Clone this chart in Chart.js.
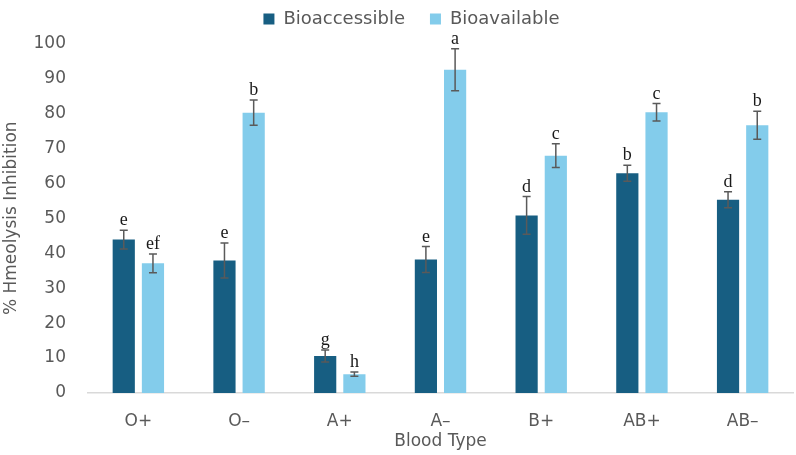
<!DOCTYPE html>
<html>
<head>
<meta charset="utf-8">
<script src="https://cdn.jsdelivr.net/npm/chart.js@4.4.1/dist/chart.umd.min.js"></script>
<style>
  html, body { margin: 0; padding: 0; background: #fff; }
  #wrap { width: 796px; height: 455px; }
</style>
</head>
<body>
<div id="wrap"><canvas id="chart"></canvas></div>
<script>
// data
const bloodTypes = ['O+', 'O\u2013', 'A+', 'A\u2013', 'B+', 'AB+', 'AB\u2013'];
const bioaccessible = [43.9, 37.9, 10.6, 38.2, 50.8, 62.9, 55.3];
const bioaccessibleErr = [2.7, 5.0, 1.7, 3.7, 5.4, 2.3, 2.3];
const bioavailable = [37.1, 80.2, 5.4, 92.5, 67.9, 80.3, 76.6];
const bioavailableErr = [2.7, 3.6, 0.6, 6.0, 3.4, 2.5, 4.0];
const bioaccessibleLetters = ['e', 'e', 'g', 'e', 'd', 'b', 'd'];
const bioavailableLetters = ['ef', 'b', 'h', 'a', 'c', 'c', 'b'];
const yTicks = [0, 10, 20, 30, 40, 50, 60, 70, 80, 90, 100];

const errors = [bioaccessibleErr, bioavailableErr];
const letters = [bioaccessibleLetters, bioavailableLetters];

// plugin untuk error bar + huruf signifikan
const errorBarPlugin = {
    id: 'errorBars',
    afterDatasetsDraw(chart) {
        const ctx = chart.ctx;
        const yScale = chart.scales.y;
        chart.data.datasets.forEach((ds, di) => {
            const meta = chart.getDatasetMeta(di);
            meta.data.forEach((bar, i) => {
                const v = ds.data[i];
                const e = errors[di][i];
                const yTop = yScale.getPixelForValue(v + e);
                const yBot = yScale.getPixelForValue(v - e);
                const x = bar.x;
                ctx.save();
                ctx.strokeStyle = '#5a5a5a';
                ctx.lineWidth = 1.5;
                ctx.beginPath();
                ctx.moveTo(x, yTop); ctx.lineTo(x, yBot);
                ctx.moveTo(x - 4, yTop); ctx.lineTo(x + 4, yTop);
                ctx.moveTo(x - 4, yBot); ctx.lineTo(x + 4, yBot);
                ctx.stroke();
                ctx.fillStyle = '#1a1a1a';
                ctx.font = '18px "Liberation Serif", "DejaVu Serif", serif';
                ctx.textAlign = 'center';
                ctx.textBaseline = 'alphabetic';
                ctx.fillText(letters[di][i], x, yTop - 5);
                ctx.restore();
            });
        });
    }
};

// tinggi legend tetap supaya kawasan graf bermula di tempat yang sama
const legendHeightPlugin = {
    id: 'legendHeight',
    beforeLayout(chart) {
        const lg = chart.legend;
        if (lg && !lg._patched) {
            const origFit = lg.fit;
            lg.fit = function () {
                origFit.call(this);
                this.height = 58.5;
            };
            lg._patched = true;
        }
    }
};

const fontFamily = '"DejaVu Sans", "Noto Sans", sans-serif';
const tickFont = { family: fontFamily, size: 17 };

new Chart(document.getElementById('chart'), {
    type: 'bar',
    data: {
        labels: bloodTypes,
        datasets: [{
            label: 'Bioaccessible',
            data: bioaccessible,
            backgroundColor: '#175E82'
        }, {
            label: 'Bioavailable',
            data: bioavailable,
            backgroundColor: '#83CCEB'
        }]
    },
    options: {
        responsive: true,
        maintainAspectRatio: false,
        animation: false,
        categoryPercentage: 0.58,
        barPercentage: 0.76,
        layout: { padding: { left: 30, right: 3, top: -15, bottom: 0 } },
        plugins: {
            legend: {
                position: 'top',
                labels: {
                    boxWidth: 11,
                    boxHeight: 11,
                    padding: 25,
                    color: '#595959',
                    font: { family: fontFamily, size: 18 }
                }
            },
            tooltip: { enabled: false }
        },
        scales: {
            x: {
                grid: { display: false },
                border: { display: true, color: '#D9D9D9', width: 1.5 },
                ticks: { color: '#595959', font: tickFont, padding: 10 },
                title: {
                    display: true,
                    text: 'Blood Type',
                    color: '#595959',
                    font: tickFont,
                    padding: { top: 0, bottom: 3 }
                },
                afterFit(scale) { scale.height = 62; }
            },
            y: {
                min: 0,
                max: 100,
                grid: { display: false },
                border: { display: false },
                afterBuildTicks(scale) {
                    scale.ticks = yTicks.map(v => ({ value: v }));
                },
                ticks: { color: '#595959', font: tickFont, padding: 14 },
                title: {
                    display: true,
                    text: '% Hmeolysis Inhibition',
                    color: '#595959',
                    font: tickFont,
                    padding: { top: -29, bottom: 0 }
                },
                afterFit(scale) { scale.width = 58; }
            }
        }
    },
    plugins: [errorBarPlugin, legendHeightPlugin]
});
</script>
</body>
</html>
